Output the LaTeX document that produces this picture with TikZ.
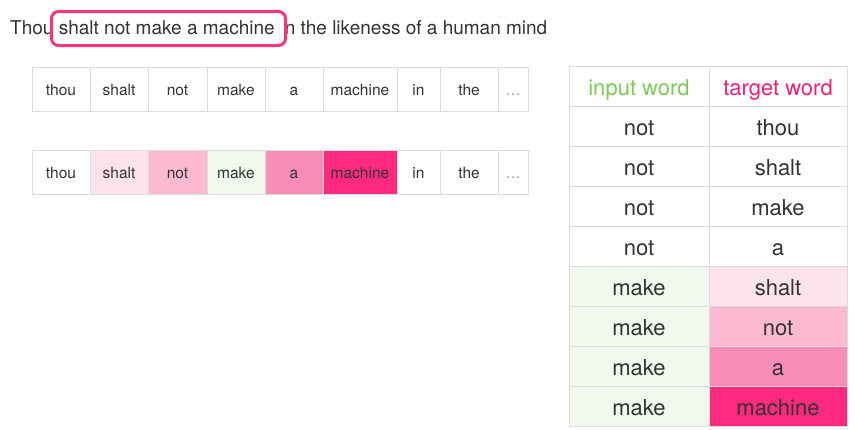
\documentclass[tikz,border=0pt]{standalone}
\usepackage{fontspec}
\setmainfont{TeX Gyre Heros}
\usepackage{tikz}
\usetikzlibrary{positioning}

\definecolor{inkgray}{HTML}{333333}
\definecolor{linegray}{HTML}{DCDCDC}
\definecolor{dotgray}{HTML}{9A9A9A}
\definecolor{boxpink}{HTML}{F7357F}
\definecolor{headgreen}{HTML}{7CC95C}
\definecolor{headpink}{HTML}{EE1F7C}
\definecolor{greenA}{HTML}{F1F8EE}
\definecolor{pinkA}{HTML}{FDE3EC}
\definecolor{pinkB}{HTML}{FBBAD2}
\definecolor{pinkC}{HTML}{FA8DB6}
\definecolor{pinkD}{HTML}{FF2A7F}

\tikzset{
  sentence/.style={inner sep=0pt, text=inkgray, font=\fontsize{19}{23}\selectfont},
  wordcell/.style={draw=linegray, line width=0.8pt, minimum height=44pt, inner sep=0pt,
    text height=13pt, text depth=0pt, font=\fontsize{15.5}{18}\selectfont, text=inkgray},
  paircell/.style={draw=linegray, line width=0.8pt, minimum height=40pt, inner sep=0pt,
    text height=18pt, text depth=0pt, font=\fontsize{22}{26}\selectfont, text=inkgray},
  hlbox/.style={draw=boxpink, line width=3pt, rounded corners=7pt, fill=white,
    minimum width=234pt, minimum height=34pt, inner sep=0pt},
}

\begin{document}
\begin{tikzpicture}[x=1pt,y=-1pt]
\useasboundingbox (0,0) rectangle (855,429);

% the sentence and the window
\node[sentence, anchor=base west] (thou) at (10,34) {Thou};
\node[sentence, anchor=base west] (rest) at (280.4,34) {in the likeness of a human mind};
\node[hlbox] (frame) at (168.5,28.5) {};
\node[sentence, anchor=base west] (phrase) at (58.6,34) {shalt not make a machine};

% plain row
\foreach \l/\r/\w [count=\i] in {32/90/thou, 90/148/shalt, 148/207/not, 207/265/make,
  265/323/a, 323/397/machine, 397/440/in, 440/498/the}
  \node[wordcell, minimum width={\r-\l}] (plain\i) at ({(\l+\r)/2},89) {\w};
\node[wordcell, minimum width=30, text=dotgray] (plaindots) at (513,89) {\dots};

% coloured row
\foreach \l/\r/\w/\c [count=\i] in {32/90/thou/white, 90/148/shalt/pinkA, 148/207/not/pinkB,
  207/265/make/greenA, 265/323/a/pinkC, 323/397/machine/pinkD, 397/440/in/white, 440/498/the/white}
  \node[wordcell, minimum width={\r-\l}, fill=\c] (word\i) at ({(\l+\r)/2},172) {\w};
\node[wordcell, minimum width=30, text=dotgray] (worddots) at (513,172) {\dots};

% training pairs
\node[paircell, minimum width=140, text=headgreen] (inhead) at (639,86) {input word};
\node[paircell, minimum width=138, text=headpink] (tghead) at (778,86) {target word};
\foreach \inw/\tgw/\inc/\tgc [count=\k] in {not/thou/white/white, not/shalt/white/white,
  not/make/white/white, not/a/white/white, make/shalt/greenA/pinkA, make/not/greenA/pinkB,
  make/a/greenA/pinkC, make/machine/greenA/pinkD}
{
  \node[paircell, minimum width=140, fill=\inc] (in\k) at (639,86+40*\k) {\inw};
  \node[paircell, minimum width=138, fill=\tgc] (tg\k) at (778,86+40*\k) {\tgw};
}

\end{tikzpicture}
\end{document}
